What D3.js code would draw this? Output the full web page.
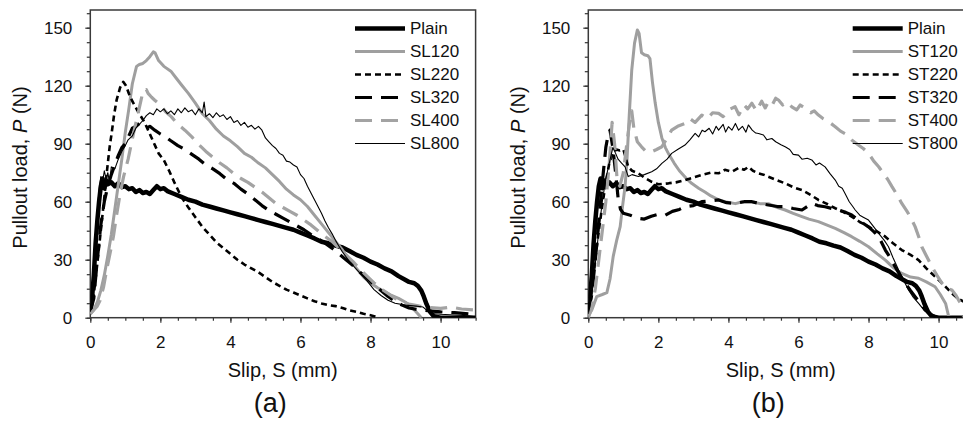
<!DOCTYPE html>
<html>
<head>
<meta charset="utf-8" />
<title>Pullout load - slip</title>
<script src="https://d3js.org/d3.v7.min.js"></script>
<style>
  body { margin: 0; background: #fff; }
  svg { display: block; font-family: "Liberation Sans", Arial, sans-serif; }
</style>
</head>
<body>
<svg width="963" height="423"></svg>
<script>
// ---- data: [slip (mm), load (N)] ----
const plain = [[0,4],[0.05,10],[0.1,22],[0.15,38],[0.2,50],[0.25,60],[0.3,68],[0.35,72],[0.4,67],[0.45,71],[0.5,69],[0.6,70],[0.7,68],[0.8,69.5],[0.9,67.5],[1.0,68],[1.1,66.5],[1.2,67],[1.3,65],[1.4,66],[1.5,64.5],[1.6,65],[1.7,64],[1.8,66],[1.9,68],[2.0,66.5],[2.1,67],[2.2,65.5],[2.4,64],[2.6,62.5],[2.8,61],[3.0,60],[3.2,58.5],[3.4,57.5],[3.6,56.5],[3.8,55.5],[4.0,54.5],[4.2,53.5],[4.4,52.5],[4.6,51.5],[4.8,50.5],[5.0,49.5],[5.2,48.5],[5.4,47.5],[5.6,46.5],[5.8,45.5],[6.0,44],[6.2,42.5],[6.4,41],[6.6,39.3],[6.8,38.5],[7.0,37.3],[7.2,36.3],[7.4,34.5],[7.6,32.5],[7.8,31],[8.0,29],[8.2,27.5],[8.4,25.5],[8.6,24],[8.8,21.5],[9.0,19.5],[9.1,18.5],[9.25,17.8],[9.35,16.5],[9.45,14],[9.52,11],[9.6,7],[9.7,3],[9.8,0.8],[10.0,0],[11.0,0]];

const sl120 = [[0,2],[0.1,4],[0.2,8],[0.3,14],[0.4,22],[0.5,32],[0.6,43],[0.7,56],[0.8,69],[0.9,82],[1.0,96],[1.1,108],[1.2,121],[1.32,130],[1.4,131],[1.5,131.5],[1.6,133],[1.7,135],[1.8,137.5],[1.85,137],[1.95,133],[2.1,130],[2.3,127.5],[2.45,124],[2.6,120.5],[2.8,116],[3.0,111],[3.2,105.5],[3.4,102],[3.6,97.5],[3.8,94],[4.0,91.5],[4.2,88.5],[4.4,85],[4.6,83],[4.8,80],[5.0,77.5],[5.2,74],[5.4,70.5],[5.6,66.5],[5.8,63.5],[6.0,61],[6.2,57.5],[6.4,53],[6.6,48.5],[6.8,44],[7.0,39.5],[7.2,35],[7.4,30],[7.6,25.5],[7.8,21],[8.0,18],[8.2,15.5],[8.4,13.5],[8.6,11.5],[8.8,10],[9.0,8],[9.2,5],[9.35,2],[9.45,0]];

const sl220 = [[0,4],[0.1,12],[0.2,28],[0.3,45],[0.4,62],[0.47,75],[0.55,88],[0.61,95.5],[0.68,105],[0.75,112.5],[0.85,119],[0.94,122],[1.02,120],[1.1,116],[1.2,112],[1.35,107],[1.55,101],[1.7,95],[1.85,89],[1.95,85],[2.1,81.5],[2.25,76],[2.4,70],[2.6,62.5],[2.8,57],[3.0,52],[3.2,47],[3.4,43],[3.6,39],[3.8,36],[4.0,33],[4.2,30],[4.4,27.5],[4.6,25.5],[4.8,23.5],[5.0,21],[5.2,18.5],[5.4,16.5],[5.6,14.5],[5.8,13],[6.0,11.5],[6.2,10],[6.4,8.5],[6.6,7.4],[6.8,6.5],[7.0,6],[7.2,5],[7.4,3.8],[7.6,3],[7.8,2],[8.0,1.3],[8.1,0.8],[8.2,0]];

const sl320 = [[0,3],[0.1,10],[0.2,30],[0.3,48],[0.4,60],[0.5,68],[0.6,74],[0.7,79],[0.8,84],[0.9,88],[1.0,90],[1.1,94],[1.2,98],[1.3,99],[1.4,100.5],[1.5,99.5],[1.6,98],[1.7,99],[1.84,97],[2.0,95],[2.15,93.5],[2.3,91.5],[2.5,89],[2.7,87],[2.9,84.5],[3.1,82],[3.3,79],[3.5,77],[3.7,74.5],[3.9,71.5],[4.1,69.5],[4.3,66.5],[4.5,64],[4.7,61],[4.9,58],[5.1,55.5],[5.3,53.5],[5.5,51.5],[5.7,49.5],[5.9,47.5],[6.1,45.5],[6.3,43],[6.5,41],[6.7,38.5],[6.9,36],[7.1,33],[7.3,30],[7.5,27],[7.7,23.5],[7.9,20.5],[8.1,17],[8.3,14],[8.5,11],[8.7,8.5],[8.9,6.5],[9.1,5],[9.4,4],[9.7,3.5],[10.0,3],[10.4,2.6],[10.8,2],[11.0,1]];

const sl400 = [[0,2],[0.1,4],[0.2,6],[0.28,9],[0.38,16],[0.47,25],[0.56,33],[0.66,42],[0.75,53],[0.85,64],[0.95,73],[1.08,82],[1.23,95],[1.38,107],[1.51,117.5],[1.6,118],[1.65,116],[1.75,114],[1.84,112.5],[2.0,110],[2.15,106.5],[2.31,104],[2.5,100],[2.7,97],[2.9,93.5],[3.1,89.5],[3.3,86],[3.5,83],[3.7,80],[3.9,77.5],[4.1,74.5],[4.3,72],[4.5,70],[4.7,67.5],[4.9,65],[5.1,62],[5.3,59],[5.5,57],[5.7,55],[5.9,53],[6.1,50.5],[6.3,48],[6.5,45],[6.7,42],[6.9,39.5],[7.1,36],[7.3,32.5],[7.5,29],[7.7,25],[7.9,21.5],[8.1,18],[8.3,15],[8.5,12.5],[8.7,10],[8.9,8],[9.1,7],[9.4,6],[9.7,5.2],[10.0,4.8],[10.3,5.5],[10.6,4.5],[11.0,4]];

const sl800 = [[0,3],[0.05,10],[0.1,25],[0.15,40],[0.2,55],[0.25,66],[0.3,73],[0.35,70],[0.4,76],[0.45,72],[0.5,75],[0.55,70],[0.6,78],[0.7,77],[0.8,82],[0.9,86],[1.0,89],[1.08,92],[1.2,94],[1.3,98],[1.4,100],[1.5,102],[1.6,104.5],[1.7,106],[1.8,105],[1.9,108],[2.0,106.5],[2.1,108],[2.2,105.5],[2.3,107],[2.4,105],[2.5,108],[2.6,106],[2.7,108.5],[2.8,106.5],[2.9,107.5],[3.0,105],[3.1,108],[3.2,106],[3.25,111.5],[3.3,104],[3.4,105.5],[3.5,103.5],[3.6,106],[3.7,104],[3.8,105],[3.9,102.5],[4.0,104],[4.1,101],[4.2,102],[4.3,99.5],[4.4,101],[4.5,98.5],[4.6,99.5],[4.7,97.5],[4.8,99],[4.9,97],[5.0,93],[5.1,91],[5.2,89],[5.3,87.5],[5.4,85],[5.5,84],[5.6,81],[5.7,80.5],[5.8,79],[5.9,78],[6.0,74],[6.1,72],[6.2,68],[6.3,64.5],[6.4,61],[6.5,57.5],[6.6,54],[6.7,50],[6.8,46.5],[6.9,43.5],[7.0,40],[7.1,37],[7.2,34],[7.3,31.5],[7.4,29],[7.5,27],[7.7,23],[7.9,19],[8.1,14.5],[8.3,11.5],[8.5,9],[8.7,7.5],[9.0,6.5],[9.3,6],[9.5,5.5],[9.6,4],[9.73,2.2],[10.0,1.8],[10.4,1.4],[10.8,1],[11.0,0.5]];

const st120 = [[0,1],[0.1,4],[0.24,10.9],[0.4,12],[0.53,13],[0.62,20],[0.71,31.6],[0.81,40],[0.91,47.1],[0.98,58],[1.05,68],[1.1,80],[1.17,105],[1.24,128],[1.32,142],[1.4,148.8],[1.45,147],[1.52,137],[1.6,136],[1.7,135.5],[1.76,134],[1.83,122],[1.91,111],[2.0,101],[2.1,93],[2.2,88],[2.3,84.5],[2.45,80],[2.6,76],[2.8,72],[2.95,69.5],[3.15,67],[3.33,65],[3.5,63],[3.72,61],[3.9,60],[4.2,59],[4.4,60],[4.67,60],[4.9,59],[5.14,59],[5.4,57],[5.62,55.7],[5.85,54],[6.1,52.3],[6.3,51],[6.57,49.7],[6.8,48],[7.05,46.2],[7.3,44],[7.52,41.9],[7.75,39.5],[8.0,36.7],[8.25,33],[8.48,29.8],[8.7,26],[8.95,22.9],[9.2,21],[9.43,20.4],[9.65,18.5],[9.9,16],[10.05,12],[10.2,7.4],[10.29,0.5],[10.4,0],[11,0]];

const st220 = [[0,5],[0.1,15],[0.2,30],[0.3,45],[0.4,58],[0.5,70],[0.6,80],[0.7,85],[0.8,87],[0.9,86.5],[1.0,87],[1.05,84],[1.14,78],[1.25,76],[1.43,74.7],[1.6,72.5],[1.81,70.3],[2.0,69],[2.29,69.5],[2.5,70],[2.76,71.2],[3.0,72.5],[3.24,73.8],[3.5,75],[3.72,74.7],[3.9,76.5],[4.1,75.5],[4.3,77.5],[4.45,76.5],[4.57,78],[4.7,76],[4.86,74.7],[5.0,74],[5.14,72.9],[5.4,71],[5.62,69.5],[5.85,67.5],[6.1,66],[6.35,63.5],[6.57,60.9],[6.8,59],[7.05,56.6],[7.3,54.5],[7.52,52.3],[7.75,49.5],[8.0,47.1],[8.25,44.5],[8.48,41.9],[8.7,38.5],[8.95,35],[9.2,32.5],[9.43,29.8],[9.65,25.5],[9.9,21.2],[10.15,17],[10.38,12.6],[10.55,10],[10.75,8]];

const st320 = [[0,3],[0.1,12],[0.2,30],[0.3,50],[0.4,70],[0.5,88],[0.55,93],[0.62,97],[0.7,88],[0.78,75],[0.85,62],[0.92,56],[1.0,54],[1.2,53],[1.4,51.5],[1.6,51],[1.8,52.5],[2.0,53.5],[2.2,53],[2.4,55],[2.6,56],[2.76,57.4],[3.0,58],[3.24,60],[3.5,60.5],[3.72,60.9],[3.95,59.5],[4.19,59.1],[4.45,60],[4.67,60],[4.9,59],[5.14,58.3],[5.4,57.5],[5.62,57.4],[5.85,56.5],[6.1,55.7],[6.25,57.5],[6.38,59.1],[6.55,58],[6.76,57.4],[6.95,56.5],[7.14,55.7],[7.35,54.5],[7.52,53.1],[7.75,50],[8.0,47],[8.15,44.5],[8.29,41.9],[8.48,35],[8.62,31],[8.76,26.4],[8.9,22],[9.05,17.8],[9.2,14],[9.33,10.9],[9.5,7],[9.62,4],[9.75,2],[9.9,0.5],[10.1,0],[11,0]];

const st400 = [[0,0],[0.1,5],[0.2,15],[0.3,30],[0.4,45],[0.5,60],[0.6,80],[0.68,101],[0.75,90],[0.82,72],[0.9,68],[1.0,75],[1.1,90],[1.2,104],[1.24,107],[1.3,98],[1.4,91],[1.52,88.4],[1.65,86],[1.81,85.9],[1.95,87],[2.1,88.4],[2.25,93],[2.38,97],[2.55,99],[2.76,100.5],[2.9,103],[3.05,101],[3.24,104.8],[3.4,103],[3.55,106],[3.72,105.7],[3.85,104],[4.0,107.5],[4.19,109.1],[4.3,105],[4.45,110],[4.55,108],[4.67,110.9],[4.8,107],[4.95,112],[5.05,108.5],[5.14,111.7],[5.25,110],[5.35,113.5],[5.43,112.6],[5.55,110],[5.65,111.5],[5.81,109.1],[5.95,107.5],[6.05,110],[6.19,108.3],[6.35,106],[6.45,107],[6.57,104.8],[6.7,103],[6.85,101.5],[7.05,98.8],[7.2,96.5],[7.35,95],[7.52,91.9],[7.7,89.5],[7.85,87.5],[8.0,85],[8.15,81],[8.29,78.1],[8.45,74],[8.55,71.5],[8.67,67.8],[8.8,64],[8.95,59.1],[9.1,55],[9.2,52],[9.33,47.1],[9.45,41],[9.52,36.7],[9.65,32],[9.81,26.4],[9.95,22],[10.1,17.8],[10.25,15],[10.38,14.3],[10.5,11.5],[10.57,9.1],[10.7,5.7],[10.8,4]];

const st800 = [[0,2],[0.1,12],[0.2,28],[0.3,45],[0.4,60],[0.5,72],[0.6,80],[0.7,88],[0.78,85],[0.85,82],[0.95,80],[1.05,78],[1.14,73],[1.25,74],[1.43,73],[1.6,74],[1.81,75.5],[1.95,77],[2.1,79.8],[2.25,82],[2.38,85],[2.55,87],[2.76,89.3],[2.9,92],[3.05,95.3],[3.15,93.5],[3.25,97],[3.33,96.2],[3.45,98],[3.55,95],[3.65,99],[3.72,97],[3.85,100],[3.92,96],[4.0,98.8],[4.1,97],[4.2,100.5],[4.29,97],[4.4,99],[4.5,96],[4.57,99.7],[4.68,97],[4.78,95.5],[4.86,95.3],[5.0,94.5],[5.1,92],[5.24,92.7],[5.35,91],[5.5,89.5],[5.62,88.4],[5.75,87],[5.85,84.5],[6.0,84.1],[6.1,82],[6.25,82.5],[6.38,81.6],[6.5,79],[6.6,80],[6.76,78],[6.9,74.5],[7.05,71.2],[7.15,68],[7.25,67],[7.33,64.3],[7.45,60],[7.55,57.5],[7.62,55.7],[7.75,53],[7.85,52],[8.0,50.5],[8.15,47],[8.29,43.6],[8.45,40],[8.57,36.7],[8.7,31],[8.86,24.7],[9.0,19.5],[9.14,14.3],[9.28,10.5],[9.43,7.4],[9.58,4],[9.71,2.2],[9.85,0.8],[10.0,0],[11,0]];

const namesA = ['Plain', 'SL120', 'SL220', 'SL320', 'SL400', 'SL800'];
const namesB = ['Plain', 'ST120', 'ST220', 'ST320', 'ST400', 'ST800'];
const xTicks = [0, 2, 4, 6, 8, 10];
const yTicks = [0, 30, 60, 90, 120, 150];

// line styles, in legend order
const styles = [
  { color: '#000',    width: 4.5, dash: null },
  { color: '#9f9f9f', width: 3,   dash: null },
  { color: '#000',    width: 2.6, dash: '6,4' },
  { color: '#000',    width: 3.2, dash: '17,9' },
  { color: '#a3a3a3', width: 3.2, dash: '17,9' },
  { color: '#000',    width: 1.1, dash: null }
];

const svg = d3.select('svg');
svg.append('rect').attr('width', 963).attr('height', 423).attr('fill', '#fff');

const render = (opt) => {
  const x = d3.scaleLinear().domain([0, 11]).range([opt.left, opt.left + 385.3]);
  const y = d3.scaleLinear().domain([0, 150]).range([317.7, 27.7]);
  const g = svg.append('g');

  const clipId = 'clip-' + opt.tag;
  svg.append('clipPath').attr('id', clipId)
    .append('rect')
    .attr('x', x(0)).attr('y', 10)
    .attr('width', x(11) - x(0)).attr('height', y(0) - 10);

  // minor ticks
  g.append('g').attr('transform', 'translate(0,' + y(0) + ')')
    .call(d3.axisBottom(x).tickValues(d3.range(0, 11.01, 0.5)).tickSize(3).tickFormat(''))
    .call(a => a.select('.domain').remove());
  g.append('g').attr('transform', 'translate(' + x(0) + ',0)')
    .call(d3.axisLeft(y).tickValues(d3.range(0, 158, 7.5)).tickSize(3.5).tickFormat(''))
    .call(a => a.select('.domain').remove());

  // major ticks + labels
  const xa = g.append('g').attr('transform', 'translate(0,' + y(0) + ')')
    .call(d3.axisBottom(x).tickValues(xTicks).tickSize(5).tickPadding(13));
  const ya = g.append('g').attr('transform', 'translate(' + x(0) + ',0)')
    .call(d3.axisLeft(y).tickValues(yTicks).tickSize(5).tickPadding(13));
  [xa, ya].forEach(a => {
    a.select('.domain').remove();
    a.attr('font-family', null).attr('font-size', 17);
    a.selectAll('text').attr('fill', '#111');
  });
  g.selectAll('.tick line').attr('stroke', '#333').attr('stroke-width', 1.2);

  // plot frame
  g.append('rect')
    .attr('x', x(0)).attr('y', 10)
    .attr('width', x(11) - x(0)).attr('height', y(0) - 10)
    .attr('fill', 'none').attr('stroke', '#3a3a3a').attr('stroke-width', 1.5);

  // curves
  const line = d3.line().x(d => x(d[0])).y(d => y(d[1]));
  g.append('g').attr('clip-path', 'url(#' + clipId + ')')
    .selectAll('path')
    .data(opt.series)
    .join('path')
    .attr('d', line)
    .attr('fill', 'none')
    .attr('stroke', (d, i) => styles[i].color)
    .attr('stroke-width', (d, i) => styles[i].width)
    .attr('stroke-dasharray', (d, i) => styles[i].dash)
    .attr('stroke-linejoin', 'round');

  // legend
  const lg = g.append('g');
  opt.names.forEach((n, i) => {
    const yy = 28.5 + 23 * i;
    lg.append('line')
      .attr('x1', opt.legX).attr('x2', opt.legX + 50)
      .attr('y1', yy).attr('y2', yy)
      .attr('stroke', styles[i].color)
      .attr('stroke-width', styles[i].width)
      .attr('stroke-dasharray', styles[i].dash);
    lg.append('text')
      .attr('x', opt.legX + 55).attr('y', yy).attr('dy', '0.35em')
      .attr('font-size', 17).attr('fill', '#111')
      .text(n);
  });

  // axis titles
  g.append('text')
    .attr('x', opt.left + 192.4).attr('y', 376.5)
    .attr('text-anchor', 'middle').attr('font-size', 20).attr('fill', '#111')
    .text('Slip, S (mm)');

  const yt = g.append('text')
    .attr('transform', 'translate(' + (opt.left - 63.8) + ',167.5) rotate(-90)')
    .attr('text-anchor', 'middle').attr('font-size', 20).attr('fill', '#111');
  yt.append('tspan').text('Pullout load, ');
  yt.append('tspan').attr('font-style', 'italic').text('P');
  yt.append('tspan').text(' (N)');

  g.append('text')
    .attr('x', opt.left + 180).attr('y', 412)
    .attr('text-anchor', 'middle').attr('font-size', 27).attr('fill', '#111')
    .text(opt.tag === 'a' ? '(a)' : '(b)');
};

render({ tag: 'a', left: 90.3, legX: 355, names: namesA,
         series: [plain, sl120, sl220, sl320, sl400, sl800] });
render({ tag: 'b', left: 588.3, legX: 852.7, names: namesB,
         series: [plain, st120, st220, st320, st400, st800] });
</script>
</body>
</html>
